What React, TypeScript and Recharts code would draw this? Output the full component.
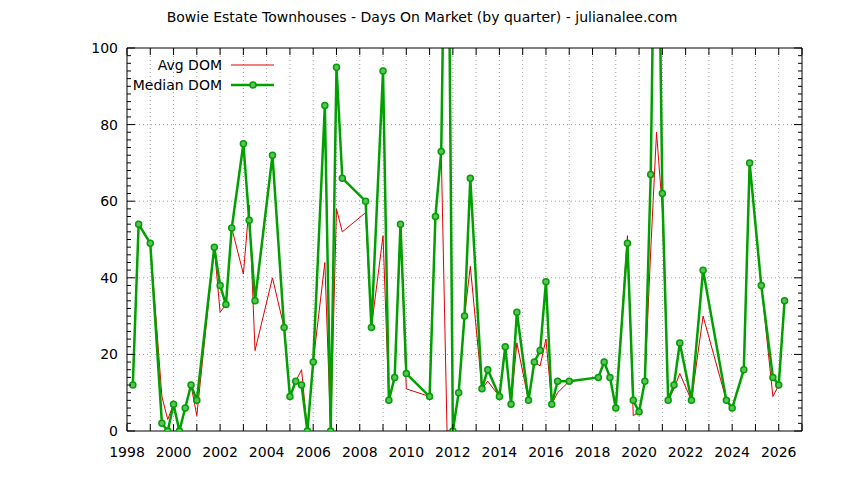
import React from "react";
import { LineChart, Line, XAxis, YAxis, CartesianGrid, Legend } from "recharts";

// quarter positions (decimal years) and days on market
const quarters = [
  1998.25, 1998.5, 1999.0, 1999.5, 1999.75, 2000.0, 2000.25, 2000.5, 2000.75, 2001.0,
  2001.75, 2002.0, 2002.25, 2002.5, 2003.0, 2003.25, 2003.5, 2004.25, 2004.75, 2005.0,
  2005.25, 2005.5, 2005.75, 2006.0, 2006.5, 2006.75, 2007.0, 2007.25, 2008.25, 2008.5,
  2009.0, 2009.25, 2009.5, 2009.75, 2010.0, 2011.0, 2011.25, 2011.5, 2011.75, 2012.0,
  2012.25, 2012.5, 2012.75, 2013.25, 2013.5, 2014.0, 2014.25, 2014.5, 2014.75, 2015.25,
  2015.5, 2015.75, 2016.0, 2016.25, 2016.5, 2017.0, 2018.25, 2018.5, 2018.75, 2019.0,
  2019.5, 2019.75, 2020.0, 2020.25, 2020.5, 2020.75, 2021.0, 2021.25, 2021.5, 2021.75,
  2022.25, 2022.75, 2023.75, 2024.0, 2024.5, 2024.75, 2025.25, 2025.75, 2026.0, 2026.25,
];

const avgDom = [
  12, 54, 49, 9, 3, 7, 0, 6, 12, 4,
  48, 31, 33, 53, 41, 59, 21, 40, 27, 9,
  13, 16, 0, 18, 44, 0, 58, 52, 57, 27,
  51, 8, 14, 54, 11, 9, 56, 73, 0, 0,
  10, 30, 43, 11, 13, 9, 22, 7, 23, 8,
  18, 17, 24, 7, 10, 13, 14, 18, 14, 6,
  51, 4, 5, 13, 47, 78, 58, 8, 11, 15,
  8, 30, 8, 6, 16, 70, 38, 9, 12, 34,
];

const medianDom = [
  12, 54, 49, 2, 0, 7, 0, 6, 12, 8,
  48, 38, 33, 53, 75, 55, 34, 72, 27, 9,
  13, 12, 0, 18, 85, 0, 95, 66, 60, 27,
  94, 8, 14, 54, 15, 9, 56, 73, 180, 0,
  10, 30, 66, 11, 16, 9, 22, 7, 31, 8,
  18, 21, 39, 7, 13, 13, 14, 18, 14, 6,
  49, 8, 5, 13, 67, 175, 62, 8, 12, 23,
  8, 42, 8, 6, 16, 70, 38, 14, 12, 34,
];

const yearTicks = [
  1998, 1999, 2000, 2001, 2002, 2003, 2004, 2005, 2006, 2007, 2008, 2009, 2010, 2011, 2012,
  2013, 2014, 2015, 2016, 2017, 2018, 2019, 2020, 2021, 2022, 2023, 2024, 2025, 2026, 2027,
];
const yearLabels = [
  1998, 2000, 2002, 2004, 2006, 2008, 2010, 2012, 2014, 2016, 2018, 2020, 2022, 2024, 2026,
];
const domLabels = [0, 20, 40, 60, 80, 100];
const domMinorTicks = Array.from({ length: 51 }, (_, i) => i * 2);

const data = quarters.map((q, i) => ({ q, avg: avgDom[i], median: medianDom[i] }));

const FONT = "'DejaVu Sans', sans-serif";
const RED = "#dd0000";
const GREEN = "#00a000";

const BottomTick = ({ x, y, payload }: any) => (
  <g>
    <line x1={x} x2={x} y1={y} y2={y - 7} stroke="#000" />
    {yearLabels.includes(payload.value) && (
      <text x={x} y={y + 26} textAnchor="middle" fontFamily={FONT} fontSize={14} fill="#000">
        {payload.value}
      </text>
    )}
  </g>
);

const TopTick = ({ x, y }: any) => <line x1={x} x2={x} y1={y} y2={y + 7} stroke="#000" />;

const LeftTick = ({ x, y, payload }: any) => {
  const major = domLabels.includes(payload.value);
  return (
    <g>
      <line x1={x} x2={x + (major ? 8 : 4)} y1={y} y2={y} stroke="#000" />
      {major && (
        <text x={x - 9} y={y + 5} textAnchor="end" fontFamily={FONT} fontSize={14} fill="#000">
          {payload.value}
        </text>
      )}
    </g>
  );
};

const RightTick = ({ x, y, payload }: any) => {
  const major = domLabels.includes(payload.value);
  return <line x1={x} x2={x - (major ? 8 : 4)} y1={y} y2={y} stroke="#000" />;
};

const LegendBox = ({ payload }: any) => (
  <div style={{ fontFamily: FONT, fontSize: 14, color: "#000" }}>
    {(payload || []).map((p: any) => (
      <div key={p.value} style={{ display: "flex", alignItems: "center", height: 20 }}>
        <span style={{ width: 222, textAlign: "right", whiteSpace: "nowrap" }}>{p.value}</span>
        <svg width={50} height={20} style={{ marginLeft: 9 }}>
          <line
            x1={0}
            x2={43}
            y1={10}
            y2={10}
            stroke={p.color}
            strokeWidth={p.dataKey === "median" ? 2.5 : 1}
          />
          {p.dataKey === "median" && (
            <circle cx={22} cy={10} r={3} fill="#5cc05c" stroke={GREEN} strokeWidth={1.5} />
          )}
        </svg>
      </div>
    ))}
  </div>
);

export default function App() {
  return (
    <div style={{ position: "absolute", left: 0, top: 0, width: 844, height: 480, background: "#fff" }}>
      <div
        style={{
          position: "absolute",
          left: 0,
          top: 9,
          width: 844,
          textAlign: "center",
          fontFamily: FONT,
          fontSize: 14,
          color: "#000",
        }}
      >
        Bowie Estate Townhouses - Days On Market (by quarter) - julianalee.com
      </div>
      <LineChart width={844} height={480} data={data} margin={{ top: 38, right: 32, bottom: 19, left: 87 }}>
        <CartesianGrid
          stroke="#a0a0a0"
          strokeDasharray="1 3"
          verticalValues={yearTicks.slice(1, -1)}
          horizontalValues={domLabels.slice(1, -1)}
        />
        <XAxis
          dataKey="q"
          type="number"
          domain={[1998, 2027]}
          ticks={yearTicks}
          interval={0}
          height={30}
          tickSize={0}
          tickMargin={0}
          tick={<BottomTick />}
          axisLine={{ stroke: "#000" }}
        />
        <XAxis
          xAxisId="top"
          orientation="top"
          dataKey="q"
          type="number"
          domain={[1998, 2027]}
          ticks={yearTicks}
          interval={0}
          height={10}
          tickSize={0}
          tickMargin={0}
          tick={<TopTick />}
          axisLine={{ stroke: "#000" }}
        />
        <YAxis
          type="number"
          domain={[0, 100]}
          allowDataOverflow
          ticks={domMinorTicks}
          interval={0}
          width={40}
          tickSize={0}
          tickMargin={0}
          tick={<LeftTick />}
          axisLine={{ stroke: "#000" }}
        />
        <YAxis
          yAxisId="right"
          orientation="right"
          type="number"
          domain={[0, 100]}
          allowDataOverflow
          ticks={domMinorTicks}
          interval={0}
          width={10}
          tickSize={0}
          tickMargin={0}
          tick={<RightTick />}
          axisLine={{ stroke: "#000" }}
        />
        <Legend
          layout="vertical"
          align="center"
          verticalAlign="middle"
          wrapperStyle={{ left: 0, top: 55, width: 300 }}
          content={<LegendBox />}
        />
        <Line
          dataKey="avg"
          name="Avg DOM"
          stroke={RED}
          strokeWidth={1}
          dot={false}
          isAnimationActive={false}
        />
        <Line
          dataKey="median"
          name="Median DOM"
          stroke={GREEN}
          strokeWidth={2.5}
          dot={{ r: 3, fill: "#5cc05c", stroke: GREEN, strokeWidth: 1.5 }}
          isAnimationActive={false}
        />
      </LineChart>
    </div>
  );
}
